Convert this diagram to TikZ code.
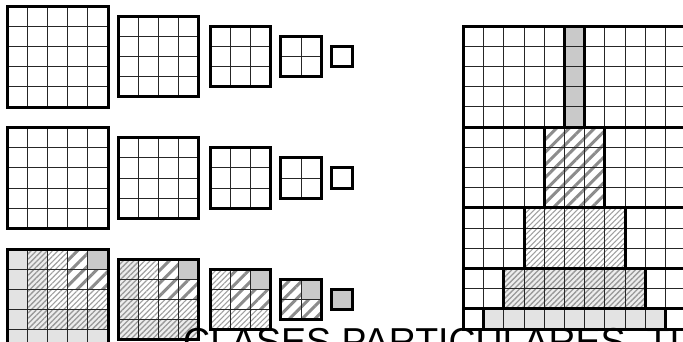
\documentclass[tikz,border=0pt]{standalone}
\usepackage{fontspec}
\newfontfamily\bannerfont{Liberation Sans}
\usetikzlibrary{patterns.meta}
\tikzset{
  frame/.style={line width=3pt,line cap=rect},
  cellline/.style={line width=0.9pt,black!85},
  lvl/.code={\ifcase#1\relax
    \tikzset{fill=gray!42}\or
    \tikzset{pattern={Lines[angle=45,distance=9pt,line width=3pt]},pattern color=gray!90}\or
    \tikzset{pattern={Lines[angle=45,distance=3.8pt,line width=1.1pt]},pattern color=gray!75}\or
    \tikzset{preaction={fill=gray!14},pattern={Lines[angle=45,distance=3.8pt,line width=1.3pt]},pattern color=gray!80}\or
    \tikzset{fill=gray!22}\fi}
}
\begin{document}
\begin{tikzpicture}[x=1pt,y=-1pt]
\clip (0,0) rectangle (683,341);
\def\cs{20.2}
\foreach \n/\cx in {5/57.5,4/158.5,3/240.5,2/301,1/342}{
  \foreach \r in {1,...,\n}{\foreach \c in {1,...,\n}{
    \pgfmathtruncatemacro\lv{max(\r-1,\n-\c)}
    \path[lvl=\lv] (\cx-\n*\cs/2+\c*\cs-\cs,299.5-\n*\cs/2+\r*\cs-\cs) rectangle ++(\cs,\cs);}}
  \foreach \cy in {56.5,178,299.5}{
    \foreach \i in {0,...,\n}{
      \draw[cellline] (\cx-\n*\cs/2+\i*\cs,\cy-\n*\cs/2) -- ++(0,\n*\cs);
      \draw[cellline] (\cx-\n*\cs/2,\cy-\n*\cs/2+\i*\cs) -- ++(\n*\cs,0);}
    \draw[frame] (\cx-\n*\cs/2,\cy-\n*\cs/2) rectangle ++(\n*\cs,\n*\cs);}}
\def\gx{463.5}\def\gy{26}
\foreach \k/\ra/\rb in {0/0/5,1/5/9,2/9/12,3/12/14,4/14/15}
  \path[lvl=\k] (\gx+5*\cs-\k*\cs,\gy+\ra*\cs) rectangle (\gx+6*\cs+\k*\cs,\gy+\rb*\cs);
\foreach \i in {0,...,11} \draw[cellline] (\gx+\i*\cs,\gy) -- ++(0,15*\cs);
\foreach \j in {0,...,15} \draw[cellline] (\gx,\gy+\j*\cs) -- ++(11*\cs,0);
\foreach \j in {0,5,9,12,14,15} \draw[frame] (\gx,\gy+\j*\cs) -- ++(11*\cs,0);
\draw[frame] (\gx,\gy) -- ++(0,15*\cs);
\foreach \k/\ra/\rb in {0/0/5,1/5/9,2/9/12,3/12/14,4/14/15}{
  \draw[frame] (\gx+5*\cs-\k*\cs,\gy+\ra*\cs) -- (\gx+5*\cs-\k*\cs,\gy+\rb*\cs);
  \draw[frame] (\gx+6*\cs+\k*\cs,\gy+\ra*\cs) -- (\gx+6*\cs+\k*\cs,\gy+\rb*\cs);}
\node[anchor=base west,inner sep=0pt,font=\bannerfont\fontsize{37.5}{37.5}\selectfont] (banner) at (183,354) {CLASES PARTICULARES–TI};
\end{tikzpicture}
\end{document}
